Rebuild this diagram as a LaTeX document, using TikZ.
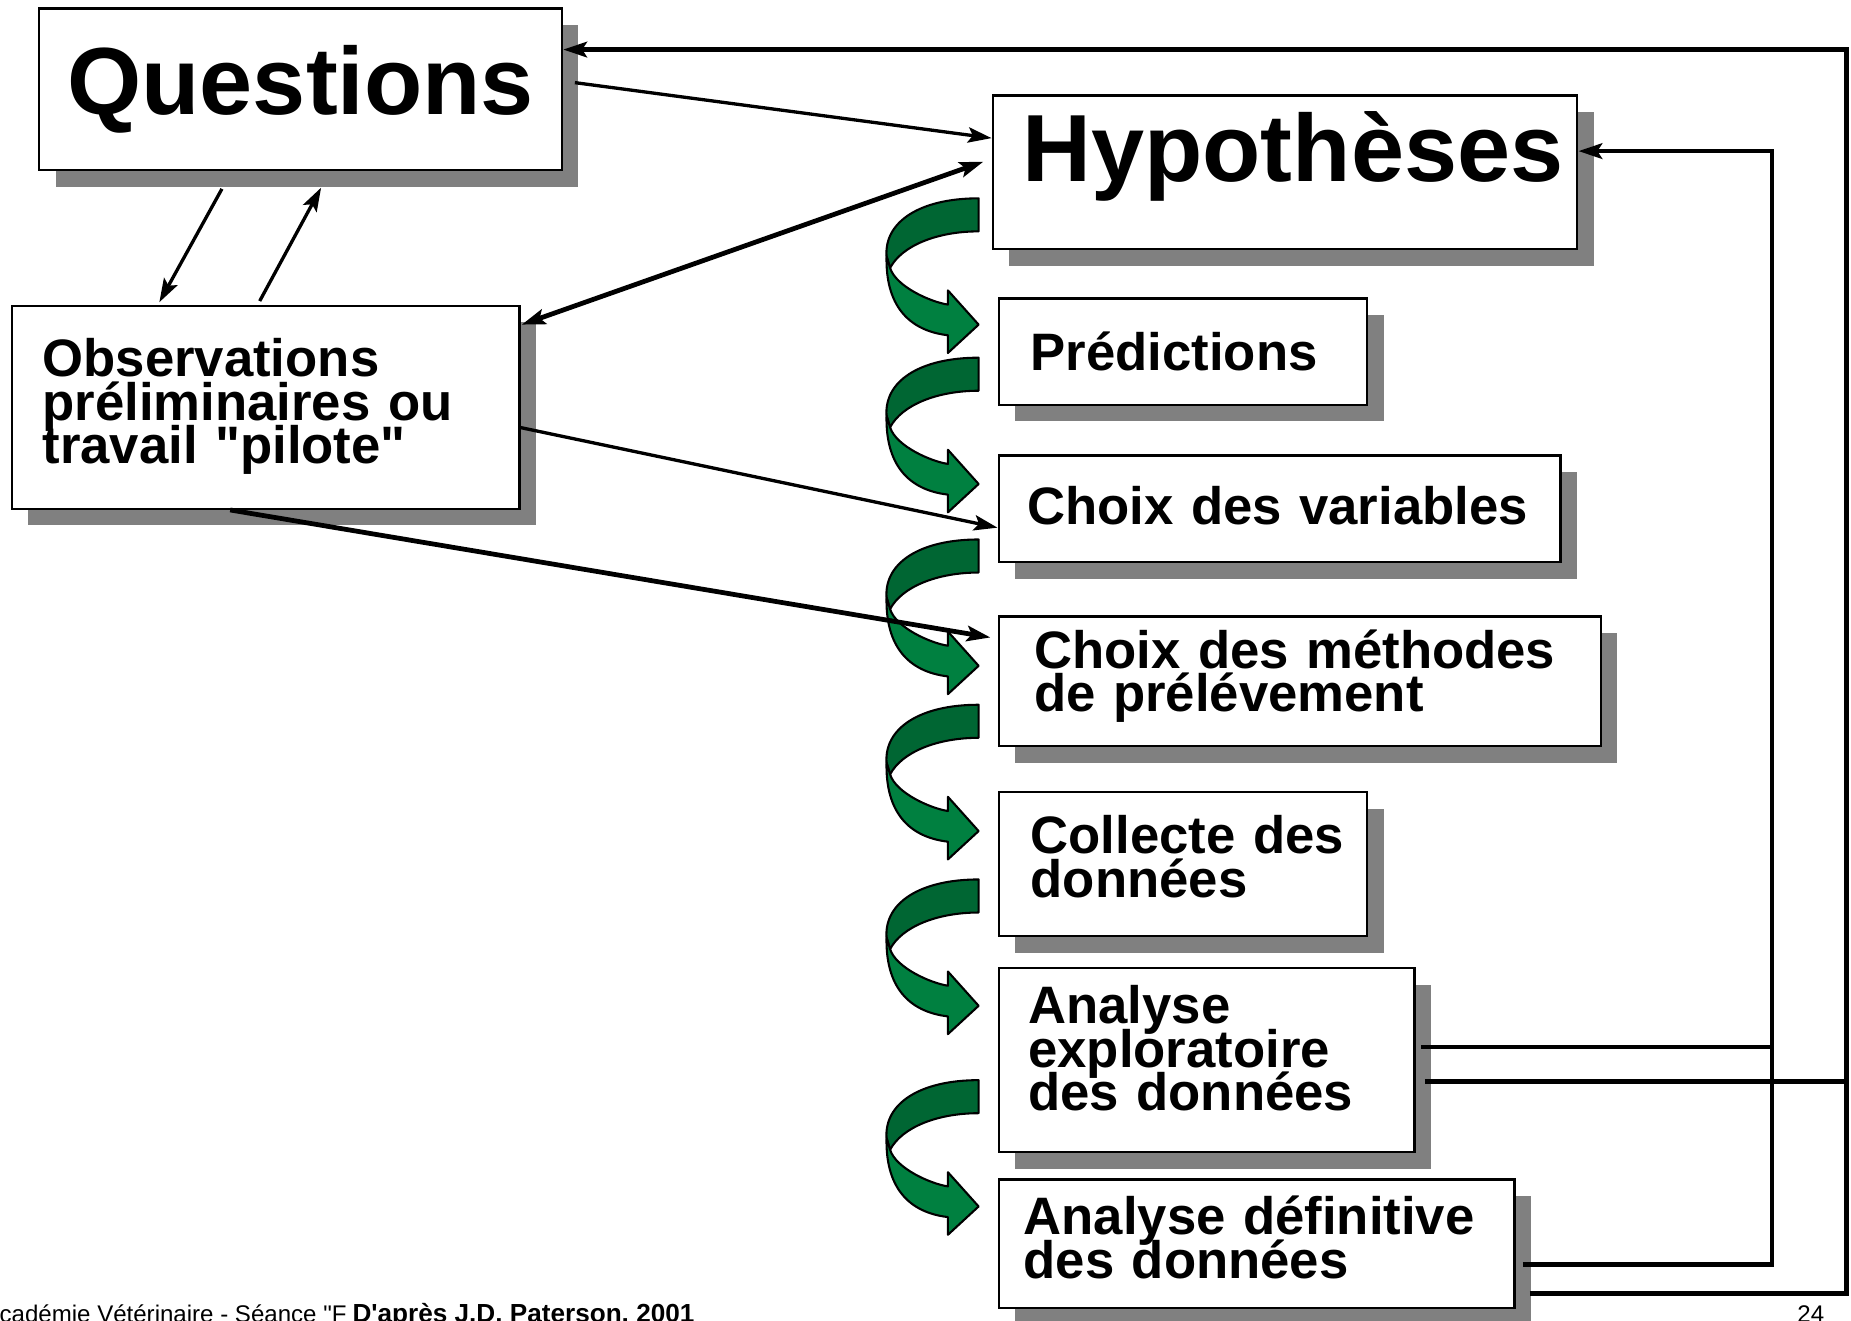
\documentclass[tikz,border=0pt]{standalone}
\usepackage{fontspec}
\setmainfont{Liberation Sans}
\usetikzlibrary{arrows.meta,shadows}

\definecolor{ribbondark}{RGB}{0,102,51}
\definecolor{ribbonlight}{RGB}{0,128,64}

\begin{document}
\begin{tikzpicture}[
  x=0.1mm, y=-0.1mm,
  box/.style={draw, line width=0.6pt, fill=white, inner sep=0pt, anchor=north west,
    align=left, font=\bfseries\fontsize{12.7pt}{10.5pt}\selectfont,
    execute at begin node={\lineskiplimit=-100pt\relax},
    drop shadow={shadow xshift=1.4mm, shadow yshift=-1.4mm, fill=black!50, opacity=1}},
  title/.style={box, font=\bfseries\fontsize{23pt}{27pt}\selectfont},
  lead/.style={execute at begin node={\leftskip=#1\relax}},
  ribbon/.style={draw=black, line width=0.5pt, line join=round},
  link/.style={line width=0.8pt, -{Stealth[length=2mm,width=1.3mm,inset=0.4mm]}},
  twoway/.style={line width=0.8pt,
    {Stealth[length=2mm,width=1.3mm,inset=0.4mm]}-{Stealth[length=2mm,width=1.3mm,inset=0.4mm]}},
  heavy/.style={line width=1.15pt},
  foot/.style={inner sep=0pt, anchor=base west, font=\fontsize{5.8pt}{7pt}\selectfont},
  footbold/.style={foot, font=\bfseries\fontsize{6.3pt}{7pt}\selectfont}
]
  \useasboundingbox (0,0) rectangle (1568,1119);

  % boxes
  \node[title, lead=2.4mm, minimum width=44.3mm, minimum height=13.7mm,
    text width=44.3mm, text height=9mm, text depth=4.7mm] (quest) at (32,6) {Questions};
  \node[title, lead=2.5mm, minimum width=49.5mm, minimum height=13mm,
    text width=49.5mm, text height=7.3mm, text depth=5.7mm] (hypo) at (840,80) {Hypothèses};
  \node[box, lead=2.6mm, minimum width=43mm, minimum height=17.2mm,
    text width=43mm, text height=6mm, text depth=11.2mm] (obs) at (9,258)
    {Observations\\préliminaires ou\\travail \textquotedbl pilote\textquotedbl};
  \node[box, lead=2.7mm, minimum width=31.2mm, minimum height=9mm,
    text width=31.2mm, text height=6.1mm, text depth=2.9mm] (pred) at (845,252) {Prédictions};
  \node[box, lead=2.4mm, minimum width=47.6mm, minimum height=9mm,
    text width=47.6mm, text height=5.8mm, text depth=3.2mm] (var) at (845,385) {Choix des variables};
  \node[box, lead=3mm, minimum width=51mm, minimum height=11mm,
    text width=51mm, text height=4.4mm, text depth=6.6mm] (meth) at (845,521)
    {Choix des méthodes\\de prélévement};
  \node[box, lead=2.7mm, minimum width=31.2mm, minimum height=12.2mm,
    text width=31.2mm, text height=5.2mm, text depth=7mm] (coll) at (845,670)
    {Collecte des\\données};
  \node[box, lead=2.5mm, minimum width=35.2mm, minimum height=15.6mm,
    text width=35.2mm, text height=4.7mm, text depth=10.9mm] (expl) at (845,819)
    {Analyse\\exploratoire\\des données};
  \node[box, lead=2.1mm, minimum width=43.7mm, minimum height=10.9mm,
    text width=43.7mm, text height=4.7mm, text depth=6.2mm] (defi) at (845,998)
    {Analyse définitive\\des données};

  % twisted green arrows between the steps
  \foreach \y in {168,303,457,597,745,915} {
    \begin{scope}[shift={(829,\y)}]
      \filldraw[ribbon, fill=ribbondark] (0,0) .. controls (-50,0) and (-80,20) .. (-78,49)
        -- (-75,59) .. controls (-65,40) and (-35,28) .. (0,28) -- cycle;
      \filldraw[ribbon, fill=ribbonlight] (-78,49) .. controls (-79,90) and (-60,112) .. (-26,116)
        -- (-26,131) -- (0,107) -- (-26,78) -- (-26,90)
        .. controls (-40,88) and (-70,75) .. (-75,59) -- cycle;
    \end{scope}
  }

  % connector ends
  \coordinate (q-h) at (487,70);
  \coordinate (h-q) at (840,117);
  \coordinate (o-h) at (442,275);
  \coordinate (h-o) at (833,137);
  \coordinate (q-o1) at (188,160);
  \coordinate (o-q1) at (135,256);
  \coordinate (o-q2) at (220,255);
  \coordinate (q-o2) at (272,159);
  \coordinate (o-v) at (440,362);
  \coordinate (v-o) at (845,447);
  \coordinate (o-m) at (195,432);
  \coordinate (m-o) at (839,540);
  \coordinate (e-in) at (1204,887);
  \coordinate (e-out) at (1207,916);
  \coordinate (d-in) at (1290,1071);
  \coordinate (d-out) at (1296,1096);
  \coordinate (in-x) at (1501,128);
  \coordinate (out-x) at (1564,42);

  \draw[link] (q-h) -- (h-q);
  \draw[twoway, heavy] (o-h) -- (h-o);
  \draw[link] (q-o1) -- (o-q1);
  \draw[link] (o-q2) -- (q-o2);
  \draw[link] (o-v) -- (v-o);
  \draw[link, heavy] (o-m) -- (m-o);

  % feedback loops
  \draw[link, heavy] (d-in) -| (in-x) -- (hypo.east |- in-x);
  \draw[heavy] (e-in) -- (e-in -| in-x);
  \draw[link, heavy] (d-out) -| (out-x) -- (quest.east |- out-x);
  \draw[heavy] (e-out) -- (e-out -| out-x);

  % footer
  \node[foot] (seance) at (-1,1120) {cadémie Vétérinaire - Séance \textquotedbl F};
  \node[footbold] (source) at (298,1120) {D\textquotesingle après J.D. Paterson, 2001};
  \node[foot, anchor=base east] (page) at (1546,1120) {24};
\end{tikzpicture}
\end{document}
